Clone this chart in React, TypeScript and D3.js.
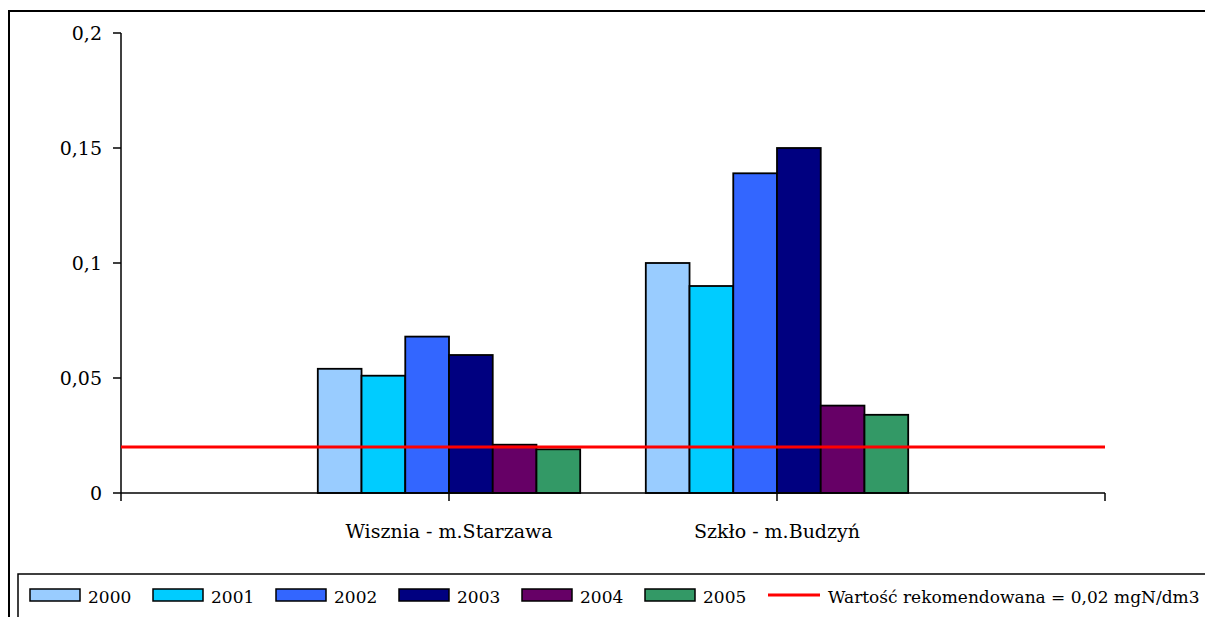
import React from "react";
import * as d3 from "d3";

// Stations (outer empty slots pad the axis like the original category axis)
const categories = ["", "Wisznia - m.Starzawa", "Szkło - m.Budzyń", " "];
const years = ["2000", "2001", "2002", "2003", "2004", "2005"];
const yearColors = ["#99CCFF", "#00CCFF", "#3366FF", "#000080", "#660066", "#339966"];

// Measured values [mgN/dm3] per year, one array per station
const wisznia = [0.054, 0.051, 0.068, 0.06, 0.021, 0.019];
const szklo = [0.1, 0.09, 0.139, 0.15, 0.038, 0.034];
const stationValues: Record<string, number[]> = {
  "Wisznia - m.Starzawa": wisznia,
  "Szkło - m.Budzyń": szklo,
};

const recommended = 0.02;
const recommendedLabel = "Wartość rekomendowana = 0,02 mgN/dm3";
const yTicks = [0, 0.05, 0.1, 0.15, 0.2];

const W = 1205;
const H = 617;
const FONT = '"DejaVu Serif", "Liberation Serif", serif';
const textStyle = { fontFamily: FONT };

export default function App() {
  const x0 = 121;
  const x1 = 1105;
  const yTop = 33;
  const yBottom = 493;

  const x = d3.scalePoint<string>().domain(categories).range([x0, x1]).padding(0);
  const step = x.step();
  const groupWidth = step * 0.8;
  const inner = d3
    .scaleBand<string>()
    .domain(years)
    .range([-groupWidth / 2, groupWidth / 2])
    .padding(0);
  const y = d3.scaleLinear().domain([0, 0.2]).range([yBottom, yTop]);
  const fmt = (v: number) => String(v).replace(".", ",");

  const legendY = 595;
  const legendX = 30;
  const legendStep = 123;

  return (
    <svg
      width={W}
      height={H}
      style={{ position: "absolute", left: 0, top: 0, background: "#fff" }}
    >
      <rect x={0} y={0} width={W} height={H} fill="#fff" />
      {/* outer chart frame */}
      <rect x={9} y={11} width={W + 20} height={H + 20} fill="none" stroke="#000" strokeWidth={2} />

      {/* bars */}
      {categories
        .filter((c) => stationValues[c])
        .map((c) =>
          stationValues[c].map((v, i) => (
            <rect
              key={c + years[i]}
              x={(x(c) as number) + (inner(years[i]) as number)}
              y={y(v)}
              width={inner.bandwidth()}
              height={yBottom - y(v)}
              fill={yearColors[i]}
              stroke="#000"
              strokeWidth={1.8}
            />
          ))
        )}

      {/* y axis */}
      <line x1={x0} x2={x0} y1={yTop} y2={yBottom} stroke="#000" strokeWidth={1.5} />
      {yTicks.map((t) => (
        <g key={t}>
          <line x1={x0 - 8} x2={x0} y1={y(t)} y2={y(t)} stroke="#000" strokeWidth={1.5} />
          <text x={102} y={y(t) + 7} textAnchor="end" fontSize={19} fill="#000" style={textStyle}>
            {fmt(t)}
          </text>
        </g>
      ))}

      {/* x axis */}
      <line x1={x0} x2={x1} y1={yBottom} y2={yBottom} stroke="#000" strokeWidth={1.5} />
      {categories.map((c) => (
        <g key={"t" + c}>
          <line x1={x(c)} x2={x(c)} y1={yBottom} y2={yBottom + 8} stroke="#000" strokeWidth={1.5} />
          {c.trim() && (
            <text x={x(c)} y={538} textAnchor="middle" fontSize={19} fill="#000" style={textStyle}>
              {c}
            </text>
          )}
        </g>
      ))}

      {/* recommended value */}
      <line x1={x0} x2={x1} y1={y(recommended)} y2={y(recommended)} stroke="#FF0000" strokeWidth={3} />

      {/* legend */}
      <rect x={18} y={574} width={W} height={80} fill="none" stroke="#000" strokeWidth={1.5} />
      {years.map((yr, i) => (
        <g key={"l" + yr}>
          <rect
            x={legendX + i * legendStep}
            y={legendY - 6}
            width={50}
            height={12}
            fill={yearColors[i]}
            stroke="#000"
            strokeWidth={1.5}
          />
          <text x={legendX + i * legendStep + 58} y={603} fontSize={17} fill="#000" style={textStyle}>
            {yr}
          </text>
        </g>
      ))}
      <line
        x1={legendX + 6 * legendStep}
        x2={legendX + 6 * legendStep + 52}
        y1={legendY}
        y2={legendY}
        stroke="#FF0000"
        strokeWidth={3}
      />
      <text x={legendX + 6 * legendStep + 60} y={603} fontSize={17} fill="#000" style={textStyle}>
        {recommendedLabel}
      </text>
    </svg>
  );
}
